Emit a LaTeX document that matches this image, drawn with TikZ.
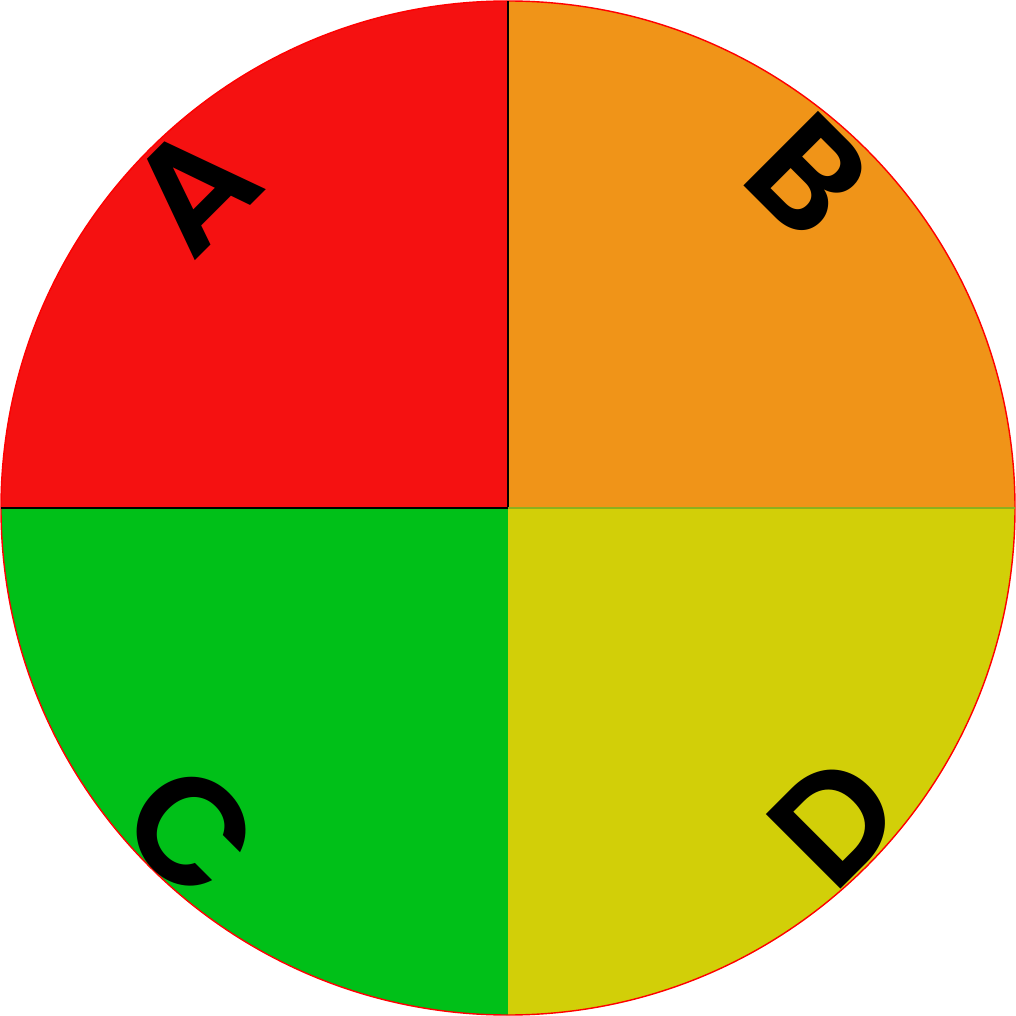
\documentclass[tikz,border=0pt]{standalone}
\usepackage{fontspec}
\newfontfamily\labfont{Poppins SemiBold}
\usepackage{tikz}
\definecolor{quadred}{RGB}{245,17,17}
\definecolor{quadorange}{RGB}{240,148,24}
\definecolor{quadgreen}{RGB}{0,192,24}
\definecolor{quadyellow}{RGB}{210,207,8}
\definecolor{olive2}{RGB}{140,176,30}
\tikzset{
  quadlabel/.style={font=\labfont\fontsize{43}{43}\selectfont, text=black, inner sep=0pt},
  splitline/.style={line width=0.5pt}
}
\begin{document}
\begin{tikzpicture}
\useasboundingbox (-5.08,-5.08) rectangle (5.08,5.08);
% quadrants
\fill[quadred] (0,0) -- (180:5.07) arc (180:90:5.07) -- cycle;
\fill[quadorange] (0,0) -- (90:5.07) arc (90:0:5.07) -- cycle;
\fill[quadgreen] (0,0) -- (270:5.07) arc (270:180:5.07) -- cycle;
\fill[quadyellow] (0,0) -- (360:5.07) arc (360:270:5.07) -- cycle;
\draw[red, line width=0.4pt] (0,0) circle (5.07);
% dividing lines
\draw[splitline, black] (0,0) -- (0,5.07);
\draw[splitline, black] (0,0) -- (-5.07,0);
\draw[splitline, olive2] (0,0) -- (5.07,0);

\node[quadlabel, rotate=45] (labA) at (-3.15,3.20) {A};
\node[quadlabel, rotate=-45] (labB) at (3.00,3.32) {B};
\node[quadlabel, rotate=-45] (labC) at (-3.17,-3.23) {C};
\node[quadlabel, rotate=45] (labD) at (3.27,-3.13) {D};
\end{tikzpicture}
\end{document}
